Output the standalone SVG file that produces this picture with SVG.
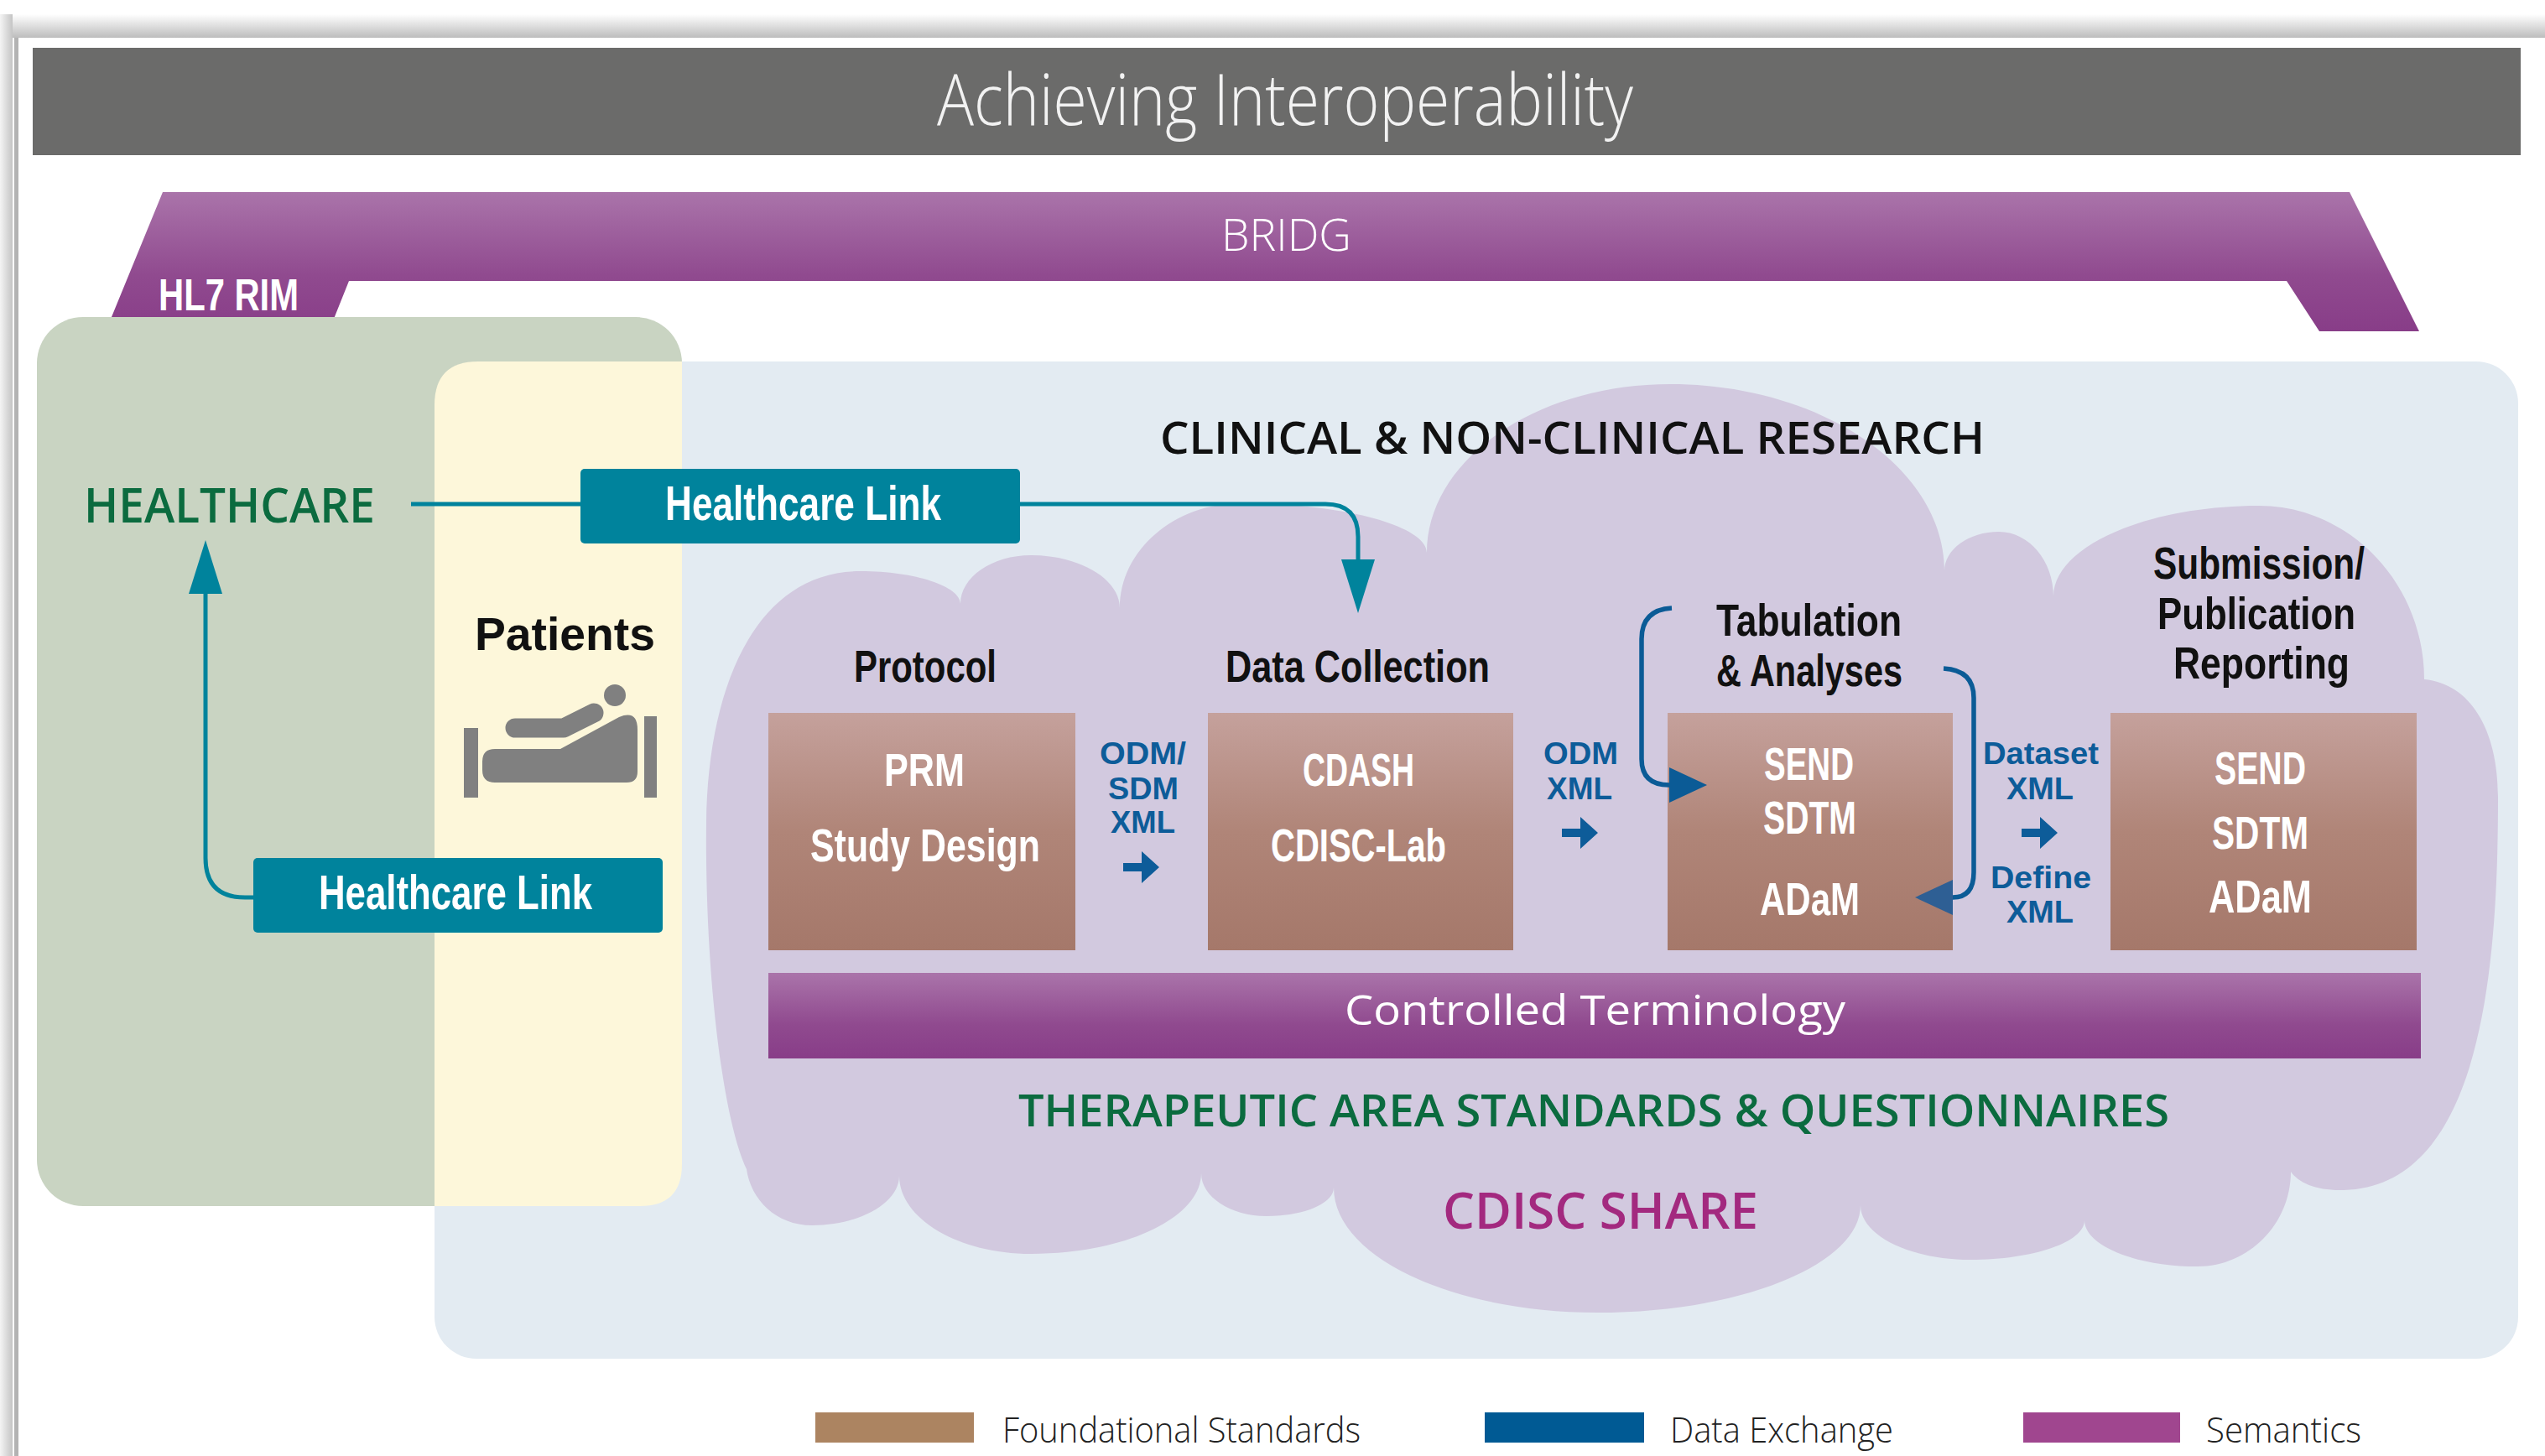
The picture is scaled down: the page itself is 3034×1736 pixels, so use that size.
<svg xmlns="http://www.w3.org/2000/svg" xmlns:xlink="http://www.w3.org/1999/xlink" width="3034" height="1736" viewBox="0 0 3034 1736">
<defs>
<style>
.bc{font-family:"Liberation Sans",Arial,sans-serif;font-weight:700}
.sb{font-family:"Open Sans","Liberation Sans",sans-serif;font-weight:600}
.lt{font-family:"Open Sans","Liberation Sans",sans-serif;font-weight:300}
.rg{font-family:"Open Sans","Liberation Sans",sans-serif;font-weight:400}
.wt{fill:#ffffff}
.hd{fill:#111111;font-size:53px}
.bx{fill:#ffffff;font-size:56px}
.lb{fill:#0d5c99;font-size:37px}
.teal{fill:none;stroke:#00839c;stroke-width:5}
.blue{fill:none;stroke:#0b5b96;stroke-width:5.5}
</style>
<linearGradient id="gBrown" x1="0" y1="0" x2="0" y2="1">
<stop offset="0" stop-color="#c5a19c"/>
<stop offset="0.5" stop-color="#b08578"/>
<stop offset="1" stop-color="#a5786a"/>
</linearGradient>
<linearGradient id="gPurple" x1="0" y1="0" x2="0" y2="1">
<stop offset="0" stop-color="#aa74aa"/>
<stop offset="0.6" stop-color="#904a8f"/>
<stop offset="1" stop-color="#883d88"/>
</linearGradient>
<linearGradient id="gTop" x1="0" y1="0" x2="0" y2="1">
<stop offset="0" stop-color="#ffffff"/>
<stop offset="1" stop-color="#bdbdbd"/>
</linearGradient>
<linearGradient id="gLeft" x1="0" y1="0" x2="1" y2="0">
<stop offset="0" stop-color="#f4f4f4"/>
<stop offset="1" stop-color="#c4c4c4"/>
</linearGradient>
<path id="rarrow" d="M0,-5 H22 V-19 L43,0 L22,19 V5 H0 Z" fill="#0d5c99"/>
<marker id="mTeal" markerUnits="userSpaceOnUse" markerWidth="64" markerHeight="40" viewBox="0 0 64 40" refX="0" refY="20" orient="auto">
<path d="M0,0 L64,20 L0,40 Z" fill="#00839c"/>
</marker>
<marker id="mBlue" markerUnits="userSpaceOnUse" markerWidth="45" markerHeight="42" viewBox="0 0 45 42" refX="0" refY="21" orient="auto">
<path d="M0,0 L45,21 L0,42 Z" fill="#0b5b96"/>
</marker>
<marker id="mBlue2" markerUnits="userSpaceOnUse" markerWidth="45" markerHeight="42" viewBox="0 0 45 42" refX="0" refY="21" orient="auto">
<path d="M0,0 L45,21 L0,42 Z" fill="#2e5f94"/>
</marker>
</defs>

<rect x="0" y="0" width="3034" height="1736" fill="#ffffff"/>
<g id="frame">
<rect x="0" y="17" width="3034" height="28" fill="url(#gTop)"/>
<rect x="0" y="17" width="15" height="1719" fill="url(#gLeft)"/>
<rect x="17" y="45" width="5" height="1691" fill="#b3b3b3"/>
<rect x="22" y="45" width="3012" height="1691" fill="#ffffff"/>
</g>

<g id="title">
<rect x="39" y="57" width="2966" height="128" fill="#6b6b6a"/>
<text class="lt" x="1117" y="149" font-size="84" fill="#f2f2f2" textLength="830" lengthAdjust="spacingAndGlyphs">Achieving Interoperability</text>
</g>

<g id="bridg">
<path d="M194,229 H2801 L2884,395 H2765 L2726,335 H416 L392,395 H126 Z" fill="url(#gPurple)"/>
<text class="lt wt" x="1456" y="299" font-size="54" textLength="155" lengthAdjust="spacingAndGlyphs">BRIDG</text>
<text class="bc wt" x="189" y="370" font-size="54" textLength="167" lengthAdjust="spacingAndGlyphs">HL7 RIM</text>
</g>

<g id="research-panel">
<rect x="518" y="431" width="2484" height="1189" rx="50" fill="#e3ebf2"/>
</g>

<g id="healthcare">
<rect x="44" y="378" width="769" height="1060" rx="55" fill="#c9d4c2"/>
<text class="sb" x="100" y="623" font-size="57" fill="#0b6b3f" textLength="347" lengthAdjust="spacingAndGlyphs">HEALTHCARE</text>
</g>

<g id="patients">
<path d="M518,483 Q518,431 570,431 H813 V1388 Q813,1438 763,1438 H518 Z" fill="#fdf7da"/>
<text class="bc" x="566" y="775" font-size="56" fill="#111111" textLength="215" lengthAdjust="spacingAndGlyphs">Patients</text>
<g id="bed" fill="#808080">
<rect x="553" y="868" width="17" height="83"/>
<rect x="768" y="854" width="15" height="97"/>
<path d="M590,893 H668 L738,855 Q760,846 760,870 V920 Q760,933 747,933 H590 Q575,933 575,918 V908 Q575,893 590,893 Z"/>
<path d="M614,868 H672 L708,850" fill="none" stroke="#808080" stroke-width="23" stroke-linecap="round" stroke-linejoin="round"/>
<circle cx="733" cy="829" r="13"/>
</g>
</g>

<g id="cloud">
<path fill="#d2c9df" d="M890,1394 C860,1330 840,1150 842,980 C844,820 900,681 1026,681 C1091,681 1145,699 1145,720 C1145,688 1183,662 1229,662 C1287,662 1335,690 1335,725 C1335,656 1400,600 1480,600 C1602,600 1701,627 1701,659 C1701,548 1831,458 1991,458 C2171,458 2318,558 2318,681 C2318,655 2347,634 2383,634 C2419,634 2448,669 2448,711 C2448,652 2558,603 2693,603 C2801,603 2890,696 2890,810 C2945,815 2978,870 2978,950 C2978,1150 2960,1419 2790,1419 C2760,1419 2740,1410 2731,1397 C2731,1459 2681,1510 2620,1510 C2546,1510 2485,1485 2485,1455 C2485,1481 2424,1502 2349,1502 C2277,1502 2218,1473 2218,1437 C2218,1507 2077,1565 1904,1565 C1731,1565 1590,1498 1590,1416 C1590,1435 1554,1450 1510,1450 C1467,1450 1432,1427 1432,1399 C1432,1452 1341,1495 1229,1495 C1143,1495 1072,1453 1072,1402 C1072,1434 1025,1461 968,1461 C925,1461 895,1430 890,1394 Z"/>
<text class="sb" x="1383" y="541" font-size="52" fill="#111111" textLength="983" lengthAdjust="spacingAndGlyphs">CLINICAL &amp; NON-CLINICAL RESEARCH</text>
</g>

<g id="protocol">
<text class="bc hd" x="1018" y="813" textLength="170" lengthAdjust="spacingAndGlyphs">Protocol</text>
<rect x="916" y="850" width="366" height="283" fill="url(#gBrown)"/>
<text class="bc bx" x="1054" y="937" textLength="96" lengthAdjust="spacingAndGlyphs">PRM</text>
<text class="bc bx" x="966" y="1027" textLength="274" lengthAdjust="spacingAndGlyphs">Study Design</text>
</g>

<g id="data-collection">
<text class="bc hd" x="1461" y="813" textLength="315" lengthAdjust="spacingAndGlyphs">Data Collection</text>
<rect x="1440" y="850" width="364" height="283" fill="url(#gBrown)"/>
<text class="bc bx" x="1553" y="937" textLength="133" lengthAdjust="spacingAndGlyphs">CDASH</text>
<text class="bc bx" x="1515" y="1027" textLength="209" lengthAdjust="spacingAndGlyphs">CDISC-Lab</text>
</g>

<g id="tabulation">
<text class="bc hd" x="2046" y="758" textLength="221" lengthAdjust="spacingAndGlyphs">Tabulation</text>
<text class="bc hd" x="2046" y="818" textLength="222" lengthAdjust="spacingAndGlyphs">&amp; Analyses</text>
<rect x="1988" y="850" width="340" height="283" fill="url(#gBrown)"/>
<text class="bc bx" x="2103" y="930" textLength="107" lengthAdjust="spacingAndGlyphs">SEND</text>
<text class="bc bx" x="2102" y="994" textLength="111" lengthAdjust="spacingAndGlyphs">SDTM</text>
<text class="bc bx" x="2098" y="1091" textLength="119" lengthAdjust="spacingAndGlyphs">ADaM</text>
</g>

<g id="submission">
<text class="bc hd" x="2567" y="690" textLength="252" lengthAdjust="spacingAndGlyphs">Submission/</text>
<text class="bc hd" x="2572" y="750" textLength="236" lengthAdjust="spacingAndGlyphs">Publication</text>
<text class="bc hd" x="2591" y="809" textLength="210" lengthAdjust="spacingAndGlyphs">Reporting</text>
<rect x="2516" y="850" width="365" height="283" fill="url(#gBrown)"/>
<text class="bc bx" x="2640" y="935" textLength="109" lengthAdjust="spacingAndGlyphs">SEND</text>
<text class="bc bx" x="2637" y="1012" textLength="115" lengthAdjust="spacingAndGlyphs">SDTM</text>
<text class="bc bx" x="2633" y="1088" textLength="123" lengthAdjust="spacingAndGlyphs">ADaM</text>
</g>

<g id="controlled-terminology">
<rect x="916" y="1160" width="1970" height="102" fill="url(#gPurple)"/>
<text class="rg wt" x="1603" y="1222" font-size="50" textLength="597" lengthAdjust="spacingAndGlyphs">Controlled Terminology</text>
</g>

<g id="therapeutic">
<text class="sb" x="1214" y="1343" font-size="53" fill="#0b6b3f" textLength="1372" lengthAdjust="spacingAndGlyphs">THERAPEUTIC AREA STANDARDS &amp; QUESTIONNAIRES</text>
</g>

<g id="cdisc-share">
<text class="sb" x="1720" y="1465" font-size="60" fill="#a3297f" textLength="376" lengthAdjust="spacingAndGlyphs">CDISC SHARE</text>
</g>

<g id="connectors">
<path class="teal" d="M490,601 H692"/>
<path class="teal" d="M1216,601 H1580 Q1619,601 1619,640 V667" marker-end="url(#mTeal)"/>
<path class="teal" d="M302,1070 H292 Q245,1070 245,1023 V708" marker-end="url(#mTeal)"/>
<path class="blue" d="M1993,725 Q1957,727 1957,762 V905 Q1957,936 1990,936" marker-end="url(#mBlue)"/>
<path class="blue" d="M2317,797 Q2353,799 2353,832 V1040 Q2353,1070 2328,1070" marker-end="url(#mBlue2)"/>
<use xlink:href="#rarrow" x="1339" y="1034"/>
<use xlink:href="#rarrow" x="1862" y="993"/>
<use xlink:href="#rarrow" x="2410" y="993"/>
<text class="bc lb" x="1311" y="911" textLength="103" lengthAdjust="spacingAndGlyphs">ODM/</text>
<text class="bc lb" x="1321" y="953" textLength="84" lengthAdjust="spacingAndGlyphs">SDM</text>
<text class="bc lb" x="1324" y="993" textLength="77" lengthAdjust="spacingAndGlyphs">XML</text>
<text class="bc lb" x="1840" y="911" textLength="89" lengthAdjust="spacingAndGlyphs">ODM</text>
<text class="bc lb" x="1844" y="953" textLength="78" lengthAdjust="spacingAndGlyphs">XML</text>
<text class="bc lb" x="2364" y="911" textLength="138" lengthAdjust="spacingAndGlyphs">Dataset</text>
<text class="bc lb" x="2392" y="953" textLength="80" lengthAdjust="spacingAndGlyphs">XML</text>
<text class="bc lb" x="2373" y="1059" textLength="120" lengthAdjust="spacingAndGlyphs">Define</text>
<text class="bc lb" x="2392" y="1100" textLength="80" lengthAdjust="spacingAndGlyphs">XML</text>
</g>

<g id="healthcare-link-top">
<rect x="692" y="559" width="524" height="89" rx="5" fill="#00839c"/>
<text class="bc wt" x="793" y="620" font-size="58" textLength="329" lengthAdjust="spacingAndGlyphs">Healthcare Link</text>
</g>
<g id="healthcare-link-bottom">
<rect x="302" y="1023" width="488" height="89" rx="5" fill="#00839c"/>
<text class="bc wt" x="380" y="1084" font-size="58" textLength="326" lengthAdjust="spacingAndGlyphs">Healthcare Link</text>
</g>

<g id="legend">
<rect x="972" y="1684" width="189" height="36" fill="#ac8461"/>
<text class="lt" x="1195" y="1720" font-size="42" fill="#222222" textLength="427" lengthAdjust="spacingAndGlyphs">Foundational Standards</text>
<rect x="1770" y="1684" width="190" height="36" fill="#005a94"/>
<text class="lt" x="1991" y="1720" font-size="42" fill="#222222" textLength="266" lengthAdjust="spacingAndGlyphs">Data Exchange</text>
<rect x="2412" y="1684" width="187" height="36" fill="#a0468f"/>
<text class="lt" x="2630" y="1720" font-size="42" fill="#222222" textLength="185" lengthAdjust="spacingAndGlyphs">Semantics</text>
</g>
</svg>
